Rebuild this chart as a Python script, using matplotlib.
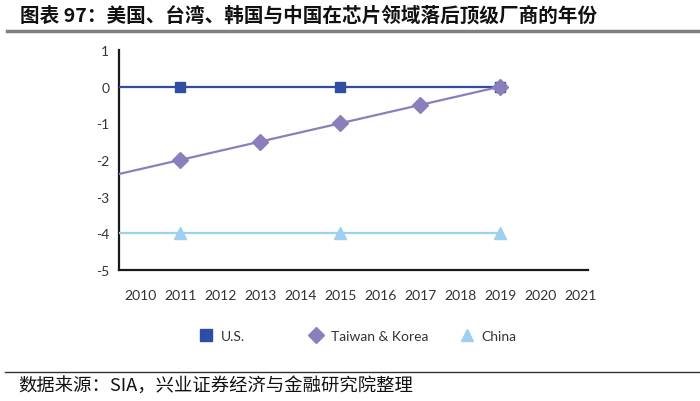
import matplotlib
matplotlib.use("Agg")
import matplotlib.pyplot as plt
from matplotlib.lines import Line2D

# data
years_us = [2009, 2011, 2015, 2019]
us = [0, 0, 0, 0]
years_tk = [2009, 2011, 2013, 2015, 2017, 2019]
tk = [-2.5, -2, -1.5, -1, -0.5, 0]
years_cn = [2009, 2011, 2015, 2019]
cn = [-4, -4, -4, -4]
xticks = list(range(2010, 2022))
yticks = [1, 0, -1, -2, -3, -4, -5]
series_names = ["U.S.", "Taiwan & Korea", "China"]

title = "图表 97：美国、台湾、韩国与中国在芯片领域落后顶级厂商的年份"
source = "数据来源：SIA，兴业证券经济与金融研究院整理"

c_us = "#2D4EA2"
c_tk = "#8C7EBA"
c_cn = "#9DCFEF"

fig = plt.figure(figsize=(7, 4.02), dpi=100)
ax = fig.add_axes([119/700, 1-271/402, (588-119)/700, (271-51)/402])

ax.plot(years_us, us, color=c_us, lw=1.6, marker="s", ms=7.5, markevery=list(range(1, len(us))), zorder=3)
ax.plot(years_tk, tk, color=c_tk, lw=1.6, marker="D", ms=8, markevery=list(range(1, len(tk))), zorder=4)
ax.plot(years_cn, cn, color=c_cn, lw=1.6, marker="^", ms=9, markevery=list(range(1, len(cn))), zorder=3)

ax.set_xlim(2009.475, 2021.2)
ax.set_ylim(-5, 1)
ax.set_xticks(xticks)
ax.set_xticklabels([str(x) for x in xticks])
ax.set_yticks(yticks)
ax.set_yticklabels([str(y) for y in yticks])
ax.tick_params(length=0, labelsize=10, labelcolor="#333333")
ax.tick_params(axis="x", pad=14)
ax.tick_params(axis="y", pad=7)
for lab in ax.get_xticklabels() + ax.get_yticklabels():
    lab.set_family("Lato")
for s in ["top", "right"]:
    ax.spines[s].set_visible(False)
for s in ["left", "bottom"]:
    ax.spines[s].set_color("#1a1a1a")
    ax.spines[s].set_linewidth(1.6)

# legend: three separately placed entries
handles = [
    Line2D([], [], ls="none", marker="s", color=c_us, ms=8),
    Line2D([], [], ls="none", marker="D", color=c_tk, ms=8),
    Line2D([], [], ls="none", marker="^", color=c_cn, ms=9),
]
marker_x = [206, 316, 467]
for h, name, mx in zip(handles, series_names, marker_x):
    lg = fig.legend([h], [name], loc="center left",
                    bbox_to_anchor=((mx - 7) / 700, 1 - 337 / 402),
                    frameon=False, borderpad=0, borderaxespad=0,
                    handlelength=1.0, handletextpad=0.55,
                    prop={"family": "Lato", "size": 10}, labelcolor="#333333")

fig.text(20/700, 1-16/402, title, family=["Noto Sans CJK SC", "DejaVu Sans"],
         fontsize=14.1, fontweight="bold", va="center", ha="left", color="#111111")
fig.add_artist(Line2D([7/700, 1], [1-32/402, 1-32/402], color="#808080", lw=2.5))
fig.add_artist(Line2D([5/700, 1], [1-373/402, 1-373/402], color="#333333", lw=1))
fig.text(18/700, 1-387/402, source, family=["Noto Sans CJK SC", "DejaVu Sans"],
         fontsize=13.2, va="center", ha="left", color="#111111")

fig.savefig("out.png", dpi=100)
